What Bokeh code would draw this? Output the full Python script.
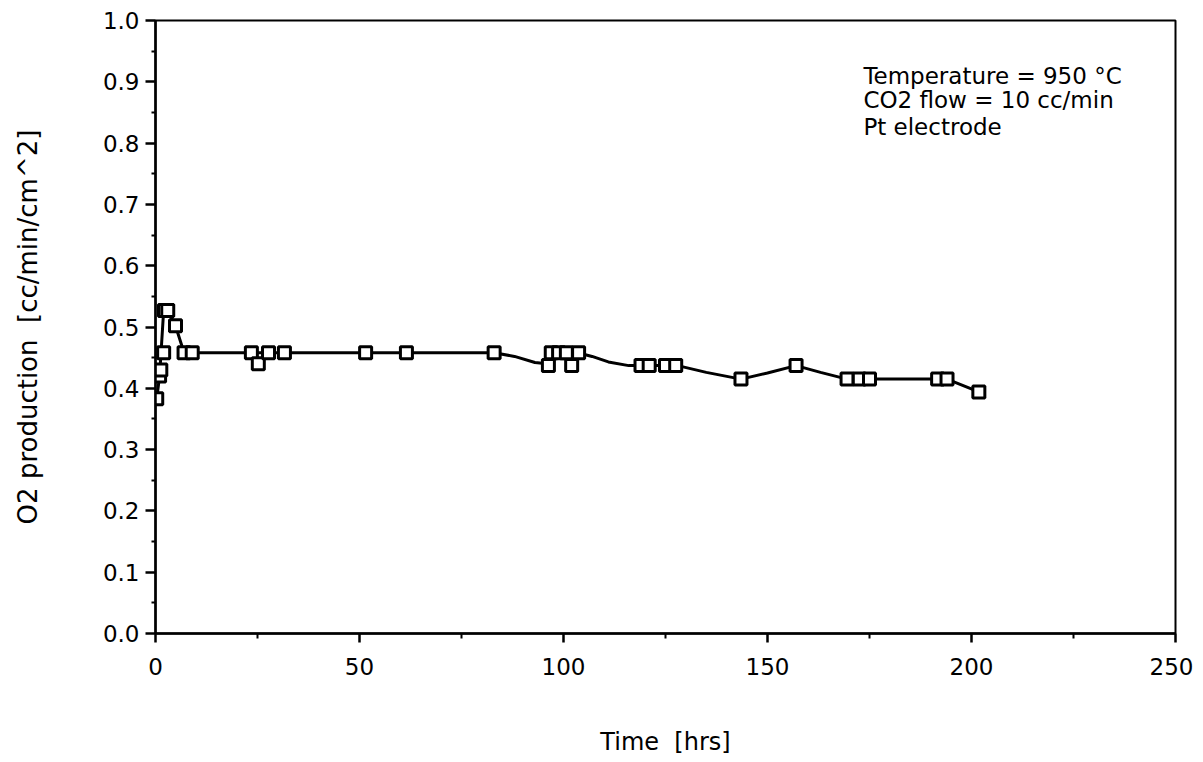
from bokeh.plotting import figure
from bokeh.models import Range1d, FixedTicker, NumeralTickFormatter, Label
from bokeh.embed import file_html
from bokeh.resources import INLINE

# measured points
time_hrs = [0.3, 1.0, 1.3, 2.0, 2.2, 3.0, 4.9, 7.0, 9.0, 23.5, 25.2, 27.7, 31.6,
            51.5, 61.5, 83.0, 96.3, 97.0, 98.8, 100.7, 102.0, 103.7,
            119.0, 121.0, 125.0, 127.5, 143.5, 157.0, 169.5, 172.5, 175.0,
            191.7, 194.0, 201.8]
o2_prod = [0.383, 0.420, 0.430, 0.458, 0.527, 0.527, 0.502, 0.458, 0.458, 0.458, 0.440, 0.458, 0.458,
           0.458, 0.458, 0.458, 0.437, 0.458, 0.458, 0.458, 0.437, 0.458,
           0.437, 0.437, 0.437, 0.437, 0.415, 0.437, 0.415, 0.415, 0.415,
           0.415, 0.415, 0.394]

# smoothed curve
curve_t = [0.3, 1.0, 2.0, 3.0, 4.9, 7.0, 83.0, 88.0, 93.0, 96.0, 98.0, 103.5, 107.0, 111.0,
           116.0, 128.0, 135.0, 143.5, 150.0, 157.0, 163.0, 169.5, 194.0, 201.8]
curve_y = [0.383, 0.420, 0.527, 0.527, 0.502, 0.458, 0.458, 0.452, 0.442, 0.440, 0.458, 0.458,
           0.452, 0.443, 0.437, 0.437, 0.426, 0.415, 0.425, 0.437, 0.426, 0.415, 0.415, 0.394]

x_ticks = [0, 50, 100, 150, 200, 250]
x_minor = [25, 75, 125, 175, 225]
y_ticks = [0.0, 0.1, 0.2, 0.3, 0.4, 0.5, 0.6, 0.7, 0.8, 0.9, 1.0]
y_minor = [0.05, 0.15, 0.25, 0.35, 0.45, 0.55, 0.65, 0.75, 0.85, 0.95]

notes = ["Temperature = 950 °C", "CO2 flow = 10 cc/min", "Pt electrode"]
note_y = [0.910, 0.870, 0.827]

FONT = "DejaVu Sans"
NB = "\u00a0"

p = figure(width=1193, height=758, output_backend="svg", toolbar_location=None,
           x_range=Range1d(0, 250), y_range=Range1d(0, 1.0),
           min_border_left=155, min_border_top=20, min_border_right=18, min_border_bottom=125)
p.grid.visible = False
p.outline_line_color = "black"
p.outline_line_width = 2
p.background_fill_color = "white"
p.border_fill_color = "white"

p.line(curve_t, curve_y, line_color="black", line_width=3)
p.scatter(time_hrs, o2_prod, marker="square", size=12, fill_color="white",
          line_color="black", line_width=3)

for ax in (p.xaxis[0], p.yaxis[0]):
    ax.axis_line_width = 2.5
    ax.axis_line_color = "black"
    ax.major_tick_line_width = 2.5
    ax.minor_tick_line_width = 2
    ax.major_tick_in = 0
    ax.minor_tick_in = 0
    ax.major_label_text_font = FONT
    ax.major_label_text_font_size = "23px"
    ax.major_label_text_color = "black"
    ax.axis_label_text_font = FONT
    ax.axis_label_text_font_style = "normal"
    ax.axis_label_text_color = "black"

p.xaxis.axis_label_text_font_size = "24px"
p.yaxis.axis_label_text_font_size = "26px"
p.xaxis.ticker = FixedTicker(ticks=x_ticks, minor_ticks=x_minor)
p.yaxis.ticker = FixedTicker(ticks=y_ticks, minor_ticks=y_minor)
p.yaxis.formatter = NumeralTickFormatter(format="0.0")
p.xaxis.major_tick_out = 9
p.xaxis.minor_tick_out = 5
p.yaxis.major_tick_out = 10
p.yaxis.minor_tick_out = 4
p.xaxis.major_label_standoff = 15
p.yaxis.major_label_standoff = 6
p.xaxis.axis_label = "Time" + NB + NB + "[hrs]"
p.yaxis.axis_label = "O2 production" + NB + NB + "[cc/min/cm^2]"
p.xaxis.axis_label_standoff = 50
p.yaxis.axis_label_standoff = 57

for txt, yy in zip(notes, note_y):
    p.add_layout(Label(x=173.5, y=yy, text=txt, text_font=FONT, text_font_size="23px",
                       text_baseline="middle", text_color="black"))

open("out.html", "w").write(file_html(p, INLINE))
